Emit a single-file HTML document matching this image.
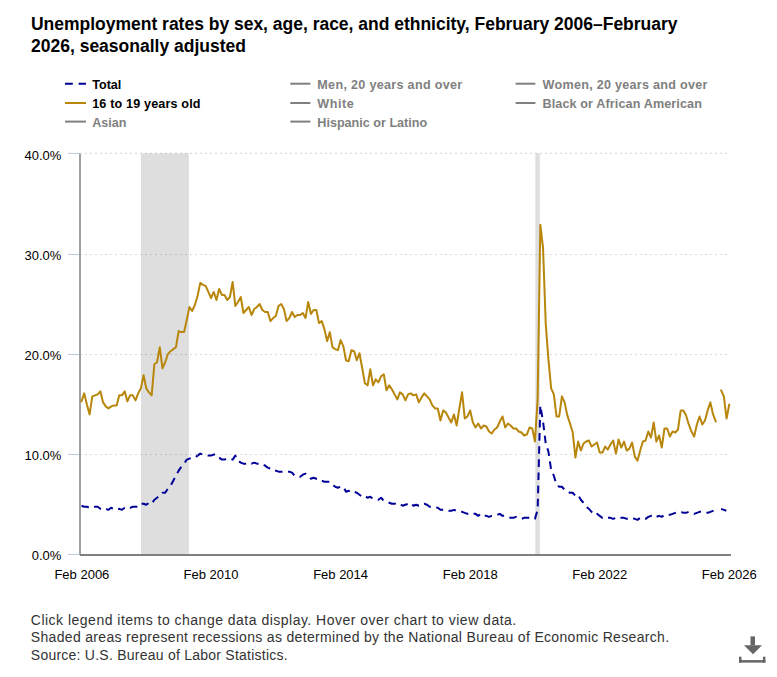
<!DOCTYPE html>
<html><head><meta charset="utf-8">
<style>
html,body{margin:0;padding:0;background:#fff;width:777px;height:677px;overflow:hidden}
svg{display:block;font-family:"Liberation Sans",sans-serif}
</style></head><body>
<svg width="777" height="677" viewBox="0 0 777 677">
<g font-weight="bold" font-size="17.5" fill="#000">
<text x="31" y="29.5" textLength="646.5" lengthAdjust="spacing">Unemployment rates by sex, age, race, and ethnicity, February 2006–February</text>
<text x="31" y="52.2" textLength="215" lengthAdjust="spacing">2026, seasonally adjusted</text>
</g>
<g font-weight="bold" font-size="12.6">
<line x1="65" y1="83.7" x2="86" y2="83.7" stroke="#000099" stroke-width="2" stroke-dasharray="7.8 5.8"/>
<text x="92.2" y="88.8" fill="#000">Total</text>
<line x1="65" y1="103" x2="86" y2="103" stroke="#b8860b" stroke-width="2"/>
<text x="92.2" y="108.1" fill="#000" textLength="108.3" lengthAdjust="spacing">16 to 19 years old</text>
<line x1="65" y1="121.6" x2="86" y2="121.6" stroke="#808080" stroke-width="2"/>
<text x="92.2" y="126.8" fill="#808080">Asian</text>
<line x1="290.3" y1="83.7" x2="310.4" y2="83.7" stroke="#808080" stroke-width="2"/>
<text x="317.3" y="88.8" fill="#808080" textLength="144.9" lengthAdjust="spacing">Men, 20 years and over</text>
<line x1="290.3" y1="103" x2="310.4" y2="103" stroke="#808080" stroke-width="2"/>
<text x="317.3" y="108.1" fill="#808080" textLength="36.5" lengthAdjust="spacing">White</text>
<line x1="290.3" y1="121.6" x2="310.4" y2="121.6" stroke="#808080" stroke-width="2"/>
<text x="317.3" y="126.8" fill="#808080">Hispanic or Latino</text>
<line x1="515.6" y1="83.7" x2="535.4" y2="83.7" stroke="#808080" stroke-width="2"/>
<text x="542.5" y="88.8" fill="#808080" textLength="165" lengthAdjust="spacing">Women, 20 years and over</text>
<line x1="515.6" y1="103" x2="535.4" y2="103" stroke="#808080" stroke-width="2"/>
<text x="542.5" y="108.1" fill="#808080" textLength="159.4" lengthAdjust="spacing">Black or African American</text>
</g>
<!-- recessions -->
<rect x="141" y="153.4" width="47.9" height="400.6" fill="#dedede"/>
<rect x="535.4" y="153.4" width="4.4" height="400.6" fill="#dedede"/>
<!-- grid -->
<g stroke="#000" stroke-opacity="0.14" stroke-width="1.2" stroke-dasharray="2 3" stroke-dashoffset="1">
<line x1="81" y1="153.4" x2="728" y2="153.4"/>
<line x1="81" y1="254.5" x2="728" y2="254.5"/>
<line x1="81" y1="354.5" x2="728" y2="354.5"/>
<line x1="81" y1="454.5" x2="728" y2="454.5"/>
</g>
<g stroke="#bccbdd" stroke-width="1">
<line x1="68" y1="153.4" x2="80" y2="153.4"/>
<line x1="68" y1="254.5" x2="80" y2="254.5"/>
<line x1="68" y1="354.5" x2="80" y2="354.5"/>
<line x1="68" y1="454.5" x2="80" y2="454.5"/>
<line x1="68" y1="554.5" x2="80" y2="554.5"/>
</g>
<line x1="80" y1="153.4" x2="80" y2="555" stroke="#a0a0a0" stroke-width="2"/>
<line x1="80" y1="555" x2="731" y2="555" stroke="#808080" stroke-width="2"/>
<g font-size="13" fill="#000" text-anchor="end">
<text x="61.4" y="159.8">40.0%</text>
<text x="61.4" y="259.8">30.0%</text>
<text x="61.4" y="359.8">20.0%</text>
<text x="61.4" y="459.8">10.0%</text>
<text x="61.4" y="559.8">0.0%</text>
</g>
<g font-size="13" fill="#000" text-anchor="middle">
<text x="81.9" y="578.8">Feb 2006</text>
<text x="211" y="578.8">Feb 2010</text>
<text x="340.6" y="578.8">Feb 2014</text>
<text x="470.2" y="578.8">Feb 2018</text>
<text x="599.8" y="578.8">Feb 2022</text>
<text x="729.3" y="578.8">Feb 2026</text>
</g>
<path d="M81.50 401.39 L84.20 393.36 L86.90 404.40 L89.60 414.44 L92.30 396.37 L95.00 395.36 L97.69 394.36 L100.39 391.35 L103.09 402.39 L105.79 406.41 L108.49 408.42 L111.19 406.41 L113.89 405.40 L116.59 405.40 L119.29 395.36 L121.98 395.36 L124.68 391.35 L127.38 401.39 L130.08 395.36 L132.78 395.36 L135.48 400.38 L138.18 393.36 L140.88 388.34 L143.58 375.28 L146.28 388.34 L148.97 392.35 L151.67 395.36 L154.37 364.24 L157.07 362.23 L159.77 347.17 L162.47 368.26 L165.17 362.23 L167.87 354.20 L170.57 351.19 L173.27 349.18 L175.96 347.17 L178.66 331.11 L181.36 332.11 L184.06 332.11 L186.76 320.06 L189.46 307.01 L192.16 311.03 L194.86 305.00 L197.56 295.97 L200.26 282.92 L202.95 284.92 L205.65 285.93 L208.35 291.95 L211.05 297.98 L213.75 291.95 L216.45 299.98 L219.15 288.94 L221.85 294.96 L224.55 294.96 L227.25 299.98 L229.94 296.97 L232.64 281.91 L235.34 306.01 L238.04 301.99 L240.74 296.97 L243.44 313.04 L246.14 310.02 L248.84 307.01 L251.54 315.04 L254.24 309.02 L256.94 307.01 L259.63 304.00 L262.33 310.02 L265.03 312.03 L267.73 312.03 L270.43 321.07 L273.13 318.06 L275.83 316.05 L278.53 306.01 L281.23 304.00 L283.92 309.02 L286.62 321.07 L289.32 318.06 L292.02 312.03 L294.72 317.05 L297.42 315.04 L300.12 315.04 L302.82 313.04 L305.52 318.06 L308.22 301.99 L310.91 314.04 L313.61 310.02 L316.31 310.02 L319.01 323.08 L321.71 321.07 L324.41 329.10 L327.11 341.15 L329.81 332.11 L332.51 347.17 L335.21 349.18 L337.90 350.18 L340.60 340.14 L343.30 346.17 L346.00 360.22 L348.70 361.23 L351.40 350.18 L354.10 351.19 L356.80 360.22 L359.50 353.20 L362.20 368.26 L364.89 383.32 L367.59 385.32 L370.29 369.26 L372.99 385.32 L375.69 379.30 L378.39 382.31 L381.09 376.29 L383.79 374.28 L386.49 390.34 L389.19 385.32 L391.88 389.34 L394.58 394.36 L397.28 399.38 L399.98 392.35 L402.68 394.36 L405.38 400.38 L408.08 394.36 L410.78 393.36 L413.48 395.36 L416.18 394.36 L418.88 402.39 L421.57 397.37 L424.27 393.36 L426.97 396.37 L429.67 399.38 L432.37 405.40 L435.07 408.42 L437.77 408.42 L440.47 420.46 L443.17 410.42 L445.86 412.43 L448.56 417.45 L451.26 422.47 L453.96 414.44 L456.66 425.48 L459.36 408.42 L462.06 392.35 L464.76 418.46 L467.46 416.45 L470.16 410.42 L472.85 422.47 L475.55 427.49 L478.25 423.48 L480.95 428.50 L483.65 425.48 L486.35 426.49 L489.05 431.51 L491.75 433.52 L494.45 429.50 L497.15 427.49 L499.84 421.47 L502.54 416.45 L505.24 427.49 L507.94 423.48 L510.64 425.48 L513.34 428.50 L516.04 428.50 L518.74 431.51 L521.44 432.51 L524.14 435.52 L526.84 434.52 L529.53 427.49 L532.23 428.50 L534.93 441.55 L537.63 399.38 L540.33 224.68 L543.03 247.78 L545.73 324.08 L548.43 359.22 L551.13 388.34 L553.83 394.36 L556.52 416.45 L559.22 416.45 L561.92 396.37 L564.62 402.39 L567.32 415.44 L570.02 423.48 L572.72 432.51 L575.42 457.61 L578.12 441.55 L580.82 450.58 L583.51 443.56 L586.21 441.55 L588.91 440.54 L591.61 446.57 L594.31 444.56 L597.01 442.55 L599.71 452.59 L602.41 452.59 L605.11 446.57 L607.80 449.58 L610.50 444.56 L613.20 440.54 L615.90 453.60 L618.60 439.54 L621.30 447.57 L624.00 441.55 L626.70 450.58 L629.40 448.58 L632.10 442.55 L634.79 456.61 L637.49 460.62 L640.19 450.58 L642.89 441.55 L645.59 440.54 L648.29 431.51 L650.99 437.53 L653.69 422.47 L656.39 441.55 L659.09 435.52 L661.78 447.57 L664.48 428.50 L667.18 428.50 L669.88 436.53 L672.58 431.51 L675.28 432.51 L677.98 429.50 L680.68 410.42 L683.38 410.42 L686.08 415.44 L688.77 424.48 L691.47 431.51 L694.17 436.53 L696.87 424.48 L699.57 416.45 L702.27 424.48 L704.97 420.46 L707.67 410.42 L710.37 402.39 L713.07 414.44 L715.76 421.47 M721.16 390.34 L723.86 396.37 L726.56 418.46 L729.26 404.40" fill="none" stroke="#b8860b" stroke-width="2" stroke-linejoin="round" stroke-linecap="round"/>
<g transform="translate(0,-1)" fill="none" stroke="#000099" stroke-width="2" stroke-dasharray="7.6 5.55" stroke-linejoin="round"><path d="M81.50 506.81 L84.20 507.81 L86.90 507.81 L89.60 508.82 L92.30 508.82 L95.00 507.81 L97.69 507.81 L100.39 509.82 L103.09 510.82 L105.79 509.82 L108.49 510.82 L111.19 508.82 L113.89 509.82 L116.59 510.82 L119.29 509.82 L121.98 510.82 L124.68 508.82 L127.38 507.81 L130.08 508.82 L132.78 507.81 L135.48 507.81 L138.18 507.81 L140.88 504.80 L143.58 504.80 L146.28 505.80 L148.97 503.80 L151.67 504.80 L154.37 500.78 L157.07 498.78 L159.77 496.77 L162.47 493.76 L165.17 493.76 L167.87 489.74 L170.57 486.73 L173.27 481.71 L175.96 476.69 L178.66 471.67 L181.36 467.65 L184.06 464.64 L186.76 460.62 L189.46 459.62 L192.16 459.62 L194.86 458.62 L197.56 456.61"/><path d="M197.56 456.61 L200.26 454.60 L202.95 455.60 L205.65 455.60 L208.35 456.61 L211.05 456.61 L213.75 455.60 L216.45 455.60 L219.15 458.62 L221.85 460.62 L224.55 460.62 L227.25 459.62 L229.94 459.62 L232.64 460.62 L235.34 456.61 L238.04 461.63 L240.74 463.64 L243.44 464.64 L246.14 464.64 L248.84 463.64 L251.54 464.64 L254.24 463.64 L256.94 464.64 L259.63 464.64 L262.33 464.64 L265.03 466.65 L267.73 468.66 L270.43 469.66 L273.13 471.67 L275.83 471.67 L278.53 472.67 L281.23 472.67 L283.92 472.67 L286.62 472.67 L289.32 472.67 L292.02 473.68 L294.72 476.69 L297.42 476.69 L300.12 477.69 L302.82 475.68 L305.52 474.68 L308.22 477.69 L310.91 479.70 L313.61 478.70 L316.31 479.70 L319.01 479.70 L321.71 481.71 L324.41 482.71 L327.11 482.71 L329.81 482.71 L332.51 485.72 L335.21 487.73 L337.90 488.74 L340.60 487.73 L343.30 487.73 L346.00 492.75 L348.70 491.75 L351.40 493.76 L354.10 492.75 L356.80 493.76 L359.50 495.76 L362.20 497.77 L364.89 496.77 L367.59 498.78 L370.29 497.77 L372.99 499.78 L375.69 500.78 L378.39 500.78 L381.09 498.78 L383.79 501.79 L386.49 502.79 L389.19 503.80 L391.88 504.80 L394.58 504.80 L397.28 503.80 L399.98 504.80 L402.68 506.81 L405.38 505.80 L408.08 504.80 L410.78 503.80 L413.48 506.81 L416.18 505.80 L418.88 506.81 L421.57 505.80 L424.27 504.80 L426.97 505.80 L429.67 507.81 L432.37 507.81 L435.07 507.81 L437.77 508.82 L440.47 510.82 L443.17 510.82 L445.86 510.82 L448.56 511.83 L451.26 511.83 L453.96 510.82 L456.66 511.83 L459.36 512.83 L462.06 512.83 L464.76 513.84 L467.46 514.84 L470.16 513.84 L472.85 514.84 L475.55 514.84 L478.25 516.85 L480.95 514.84 L483.65 516.85 L486.35 516.85 L489.05 517.85 L491.75 516.85 L494.45 516.85 L497.15 515.84 L499.84 514.84 L502.54 516.85 L505.24 516.85 L507.94 517.85 L510.64 518.86 L513.34 518.86 L516.04 517.85 L518.74 518.86 L521.44 519.86 L524.14 518.86 L526.84 518.86 L529.53 518.86 L532.23 519.86 L534.93 519.86 L537.63 510.82 L540.33 406.41 L543.03 422.47 L545.73 444.56 L548.43 452.59 L551.13 470.66 L553.83 476.69 L556.52 485.72 L559.22 487.73 L561.92 487.73 L564.62 490.74 L567.32 492.75 L570.02 493.76 L572.72 493.76 L575.42 496.77 L578.12 495.76 L580.82 500.78 L583.51 503.80 L586.21 507.81 L588.91 509.82 L591.61 512.83 L594.31 515.84 L597.01 514.84 L599.71 516.85 L602.41 518.86 L605.11 517.85 L607.80 518.86 L610.50 518.86 L613.20 519.86 L615.90 518.86 L618.60 519.86 L621.30 518.86 L624.00 518.86 L626.70 519.86 L629.40 519.86 L632.10 518.86 L634.79 519.86 L637.49 520.86 L640.19 518.86 L642.89 518.86 L645.59 519.86 L648.29 517.85 L650.99 516.85 L653.69 515.84 L656.39 517.85 L659.09 516.85 L661.78 517.85 L664.48 515.84 L667.18 515.84 L669.88 515.84 L672.58 514.84 L675.28 513.84 L677.98 512.83 L680.68 512.83 L683.38 513.84 L686.08 513.84 L688.77 512.83 L691.47 513.84 L694.17 514.84 L696.87 513.84 L699.57 512.83 L702.27 512.83 L704.97 512.83 L707.67 513.84 L710.37 512.83 L713.07 511.83 L715.76 510.82 M721.16 509.82 L723.86 510.82 L726.56 511.83 L729.26 510.82" stroke-dashoffset="2.08"/></g>
<g font-size="14" fill="#333">
<text x="30.8" y="624.9" textLength="485.4" lengthAdjust="spacing">Click legend items to change data display. Hover over chart to view data.</text>
<text x="30.8" y="642.2" textLength="638.3" lengthAdjust="spacing">Shaded areas represent recessions as determined by the National Bureau of Economic Research.</text>
<text x="30.8" y="659.5" textLength="256.8" lengthAdjust="spacing">Source: U.S. Bureau of Labor Statistics.</text>
</g>
<g fill="#666">
<rect x="750.5" y="636.4" width="4.5" height="9"/>
<polygon points="744,645.3 762,645.3 753,654.2"/>
<rect x="739" y="656.7" width="2.5" height="5.9"/>
<rect x="762.9" y="656.7" width="2.5" height="5.9"/>
<rect x="739" y="660.1" width="26.4" height="2.5"/>
</g>
</svg>
</body></html>
